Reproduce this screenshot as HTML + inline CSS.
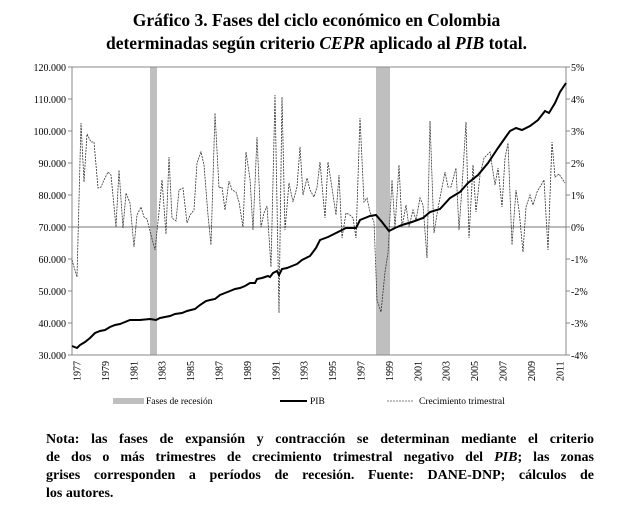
<!DOCTYPE html><html><head><meta charset="utf-8"><style>
body{margin:0;background:#fff;width:633px;height:514px;overflow:hidden;font-family:"Liberation Serif",serif}
.t{position:absolute;left:0;width:633px;text-align:center;font-weight:bold;font-size:17.5px;line-height:23px;top:9px}
.n{position:absolute;left:46px;width:548px;top:431px;font-weight:bold;font-size:14px;line-height:18px}
.n div{text-align:justify;text-align-last:justify;white-space:nowrap}
.n div.l{text-align-last:left}
</style></head><body>
<div class="t">Gráfico 3. Fases del ciclo económico en Colombia<br>determinadas según criterio <i>CEPR</i> aplicado al <i>PIB</i> total.</div>
<svg width="633" height="514" style="position:absolute;left:0;top:0" font-family="Liberation Serif,serif">
<rect x="150" y="67" width="7" height="288" fill="#bfbfbf"/>
<rect x="376" y="67" width="14" height="288" fill="#bfbfbf"/>
<rect x="72" y="67" width="494" height="288" fill="none" stroke="#888" stroke-width="1"/>
<line x1="72" y1="227" x2="566" y2="227" stroke="#777"/>
<g id="ticks" stroke="#888"></g>
<g font-size="10" text-anchor="end" id="yl"></g>
<g font-size="10" id="yr"></g>
<g font-size="10" id="xl"></g>
<polyline fill="none" stroke="#333" stroke-width="0.8" stroke-dasharray="2,1" points="72,260 77,277 81,123 84,182 87,134 91,142 94,142 98,188 101,187 104,180 108,172 111,175 116,227 119,170 123,228 126,193 130,203 134,247 137,215 141,207 144,217 147,219 151,235 155,250 159,212 162,180 166,234 169,157 172,218 176,221 179,190 183,188 187,223 190,215 194,210 197,163 201,152 204,165 208,215 211,245 215,113 219,188 222,187 225,210 229,181 232,190 236,192 239,202 243,227 246,152 250,179 253,230 257,137 261,227 264,213 267,206 271,267 275,95 279,313 282,97 285,230 289,183 293,202 297,187 300,147 303,195 307,178 310,190 314,197 317,187 320,162 325,218 328,162 332,188 336,215 339,175 342,238 346,213 350,215 353,218 356,238 360,118 364,202 367,198 370,212 374,222 377,300 381,312 385,272 388,253 392,180 395,228 399,165 402,227 406,205 409,227 413,210 416,220 420,198 423,205 427,258 430,121 434,233 438,208 445,172 448,187 451,187 456,168 459,230 462,187 466,122 469,238 473,165 476,212 480,175 484,158 490,152 495,185 498,168 502,207 505,158 508,143 512,245 516,190 519,210 523,252 526,207 530,195 533,205 537,192 544,180 548,250 552,142 555,177 559,174 565,183"/>
<polyline fill="none" stroke="#000" stroke-width="2" points="72,346 77,348 80,345 85,342 90,338 95,333 100,331 105,330 110,327 115,325 120,324 125,322 130,320 140,320 150,319 156,320 160,318 165,317 170,316 175,314 182,313 187,311 195,309 200,305 206,301 210,300 215,299 220,295 225,293 230,291 235,289 240,288 245,286 250,283 255,283 257,279 262,278 268,276 270,277 273,273 277,271 279,275 282,269 287,268 292,266 297,264 302,260 310,256 316,248 320,240 328,237 336,233 346,228 356,228 360,220 370,216 376,215 382,222 389,231 395,228 402,225 412,222 423,218 430,212 440,209 450,198 460,192 468,183 478,175 488,163 498,148 505,138 510,131 516,128 522,130 530,126 538,120 545,111 549,113 555,103 560,92 566,83"/>
<rect x="113" y="398" width="31" height="6" fill="#bfbfbf"/>
<text x="146" y="404" font-size="9.5">Fases de recesión</text>
<line x1="280" y1="401" x2="307" y2="401" stroke="#000" stroke-width="2"/>
<text x="310" y="404" font-size="9.5">PIB</text>
<line x1="387" y1="401" x2="414" y2="401" stroke="#555" stroke-width="0.8" stroke-dasharray="2,1"/>
<text x="419" y="404" font-size="9.5">Crecimiento trimestral</text>
</svg>
<div class="n"><div>Nota: las fases de expansión y contracción se determinan mediante el criterio</div><div>de dos o más trimestres de crecimiento trimestral negativo del <i>PIB</i>; las zonas</div><div>grises corresponden a períodos de recesión. Fuente: DANE-DNP; cálculos de</div><div class="l">los autores.</div></div>
<script>
var ns="http://www.w3.org/2000/svg";
function el(p,t,a,tx){var e=document.createElementNS(ns,t);for(var k in a)e.setAttribute(k,a[k]);if(tx)e.textContent=tx;document.getElementById(p).appendChild(e);}
for(var i=0;i<10;i++){var y=67+i*32;
el("yl","text",{x:66,y:y+4},(120-i*10)+".000");
el("yr","text",{x:571,y:y+4},(5-i)+"%");
el("ticks","line",{x1:68,y1:y,x2:72,y2:y});
el("ticks","line",{x1:566,y1:y,x2:570,y2:y});}
for(var j=0;j<18;j++){var x=77+j*28.4;
el("xl","text",{x:0,y:0,transform:"translate("+(x+3.5)+",381) rotate(-90)"},String(1977+2*j));}
</script>
</body></html>
